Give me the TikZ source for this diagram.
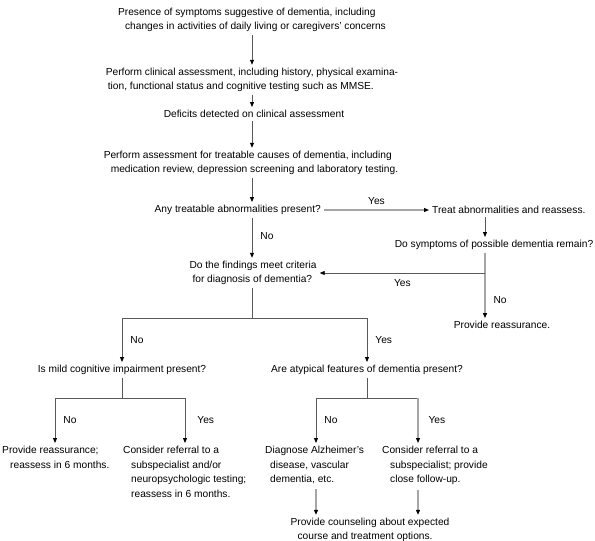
\documentclass[tikz,border=0pt]{standalone}
\usepackage{fontspec}
\setmainfont{Liberation Sans}
\usetikzlibrary{arrows.meta}
\newcommand{\ind}{\hspace*{7pt}}
\begin{document}
\begin{tikzpicture}[x=1pt,y=-1pt,
  txt/.style={font=\fontsize{10.2}{14.5}\selectfont, align=left, inner sep=3pt},
  lab/.style={font=\fontsize{10.2}{14.5}\selectfont, inner sep=0pt},
  dk/.style={draw=black!65, line width=0.8pt},
  lt/.style={draw=black!35, line width=1.1pt},
  arr/.style={-{Triangle[length=5pt,width=4pt,color=black]}}]
\useasboundingbox (0,0) rectangle (595,541);
\fill[white] (0,0) rectangle (595,541);

% nodes
\node[txt] (top) at (252,20) {Presence of symptoms suggestive of dementia, including\\\ind changes in activities of daily living or caregivers' concerns};
\node[txt] (clin) at (252,80) {Perform clinical assessment, including history, physical examina-\\\hspace*{2pt}tion, functional status and cognitive testing such as MMSE.};
\node[txt] (def) at (254,114) {Deficits detected on clinical assessment};
\node[txt] (treat) at (251,163) {Perform assessment for treatable causes of dementia, including\\\ind medication review, depression screening and laboratory testing.};
\node[txt,anchor=east] (any) at (324,210) {Any treatable abnormalities present?};
\node[txt,anchor=west] (tr) at (429,210) {Treat abnormalities and reassess.};
\node[txt] (sym) at (494,245) {Do symptoms of possible dementia remain?};
\node[txt] (find) at (253,273) {Do the findings meet criteria\\\hspace*{3pt}for diagnosis of dementia?};
\node[txt] (reR) at (502,325) {Provide reassurance.};
\node[txt] (mild) at (122,370) {Is mild cognitive impairment present?};
\node[txt] (atyp) at (367,370) {Are atypical features of dementia present?};
\node[txt,anchor=north west] (reL) at (-1,443) {Provide reassurance;\\\hspace*{8pt}reassess in 6 months.};
\node[txt,anchor=north west] (con1) at (120,443) {Consider referral to a\\\hspace*{8pt}subspecialist and/or\\\hspace*{8pt}neuropsychologic testing;\\\hspace*{8pt}reassess in 6 months.};
\node[txt,anchor=north west] (diag) at (262,443) {Diagnose Alzheimer's\\\hspace*{5pt}disease, vascular\\\hspace*{5pt}dementia, etc.};
\node[txt,anchor=north west] (con2) at (379,443) {Consider referral to a\\\hspace*{8pt}subspecialist; provide\\\hspace*{8pt}close follow-up.};
\node[txt] (cou) at (370,530) {Provide counseling about expected\\\ind course and treatment options.};

% coordinates
\coordinate (s1) at (252,318);
\coordinate (s2) at (122,398);
\coordinate (s3) at (367,398);
\coordinate (xL) at (55,398);
\coordinate (xC) at (185,398);
\coordinate (xD) at (316,398);
\coordinate (xE) at (418,398);
\coordinate (vR) at (485,273);

% main spine
\draw[dk,arr] (top.south) -- (top.south |- clin.north);
\draw[dk,arr] (clin.south -| def.north) ++(-2,0) -- ([xshift=-2pt]def.north);
\draw[dk,arr] (def.south) ++(-2,0) -- ([xshift=-2pt]def.south |- treat.north);
\draw[dk,arr] (treat.south) ++(1,0) -- ([xshift=1pt]treat.south |- any.north);
\draw[dk,arr] (any.south -| top.south) -- (top.south |- find.north) node[lab,pos=0.45,right=8pt] {No};
\draw[lt,arr] (any.east) -- (tr.west) node[lab,midway,above=5pt] {Yes};
\draw[dk,arr] (vR |- tr.south) -- (vR |- sym.north);
\draw[lt,arr] (vR |- sym.south) -- (vR |- reR.north) node[lab,pos=0.72,right=8pt] {No};
\draw[dk,arr] (vR) -- (find.east) node[lab,pos=0.5,below=6pt] {Yes};

% findings split
\draw[dk] (find.south -| s1) -- (s1);
\draw[dk,arr] (s1) -| (mild.north) node[lab,pos=0.75,right=8pt] {No};
\draw[dk,arr] (s1) -| (atyp.north) node[lab,pos=0.75,right=8pt] {Yes};

% mild split
\draw[dk] (mild.south) -- (s2);
\draw[dk] (xL) -- (xC);
\draw[dk,arr] (xL) -- (xL |- reL.north) node[lab,midway,right=8pt] {No};
\draw[dk,arr] (xC) -- (xC |- con1.north) node[lab,midway,right=12pt] {Yes};

% atypical split
\draw[dk] (atyp.south) -- (s3);
\draw[dk] (xD) -- (xE);
\draw[dk,arr] (xD) -- (xD |- diag.north) node[lab,midway,right=8pt] {No};
\draw[lt,arr] (xE) -- (xE |- con2.north) node[lab,midway,right=10pt] {Yes};

% to counseling
\draw[lt,arr] (xD |- diag.south) ++(0,2) -- (xD |- cou.north);
\draw[lt,arr] (xE |- con2.south) ++(0,2) -- (xE |- cou.north);
\end{tikzpicture}
\end{document}
